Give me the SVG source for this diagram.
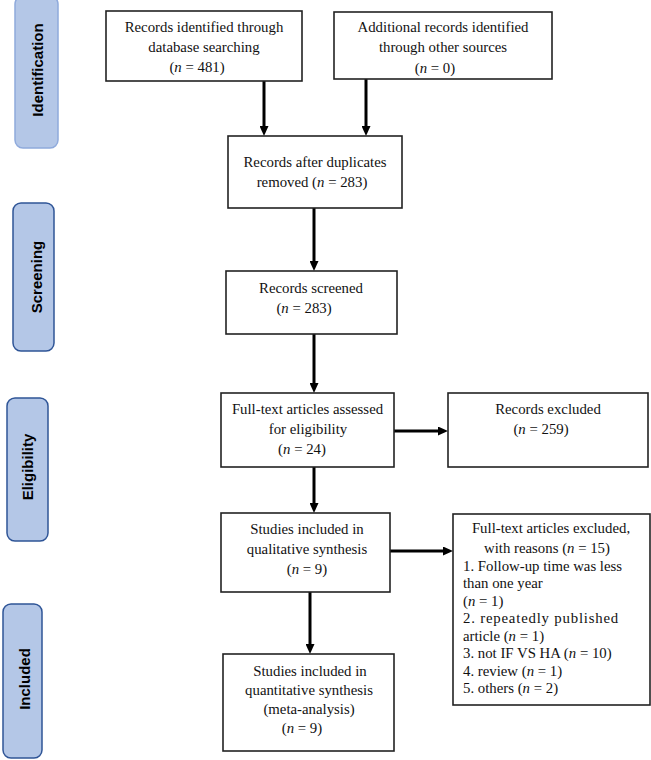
<svg xmlns="http://www.w3.org/2000/svg" width="651" height="760" viewBox="0 0 651 760">
<style>
.box{fill:#fff;stroke:#222;stroke-width:1.6}
.t{font-family:"Liberation Serif","Times New Roman",serif;font-size:14.8px;fill:#111}
.c{text-anchor:middle}
.pill{fill:#b4c7e7;stroke:#2f5597;stroke-width:1.5}
.pl{font-family:"Liberation Sans",Arial,sans-serif;font-size:15px;font-weight:bold;fill:#000;text-anchor:middle}
.arr{stroke:#000;stroke-width:3;fill:none;marker-end:url(#ah)}
</style>
<defs>
<marker id="ah" markerUnits="userSpaceOnUse" markerWidth="10" markerHeight="9" refX="3" refY="4.5" orient="auto">
<path d="M0,0 L10,4.5 L0,9 z" fill="#000"/>
</marker>
</defs>
<g id="phase-identification">
<rect class="pill" style="stroke:#8faadc" x="15" y="-4" width="43" height="152" rx="8"/>
<text class="pl" transform="translate(43,70) rotate(-90)">Identification</text>
</g>
<g id="phase-screening">
<rect class="pill" x="13" y="203" width="41" height="148" rx="8"/>
<text class="pl" transform="translate(42,277) rotate(-90)">Screening</text>
</g>
<g id="phase-eligibility">
<rect class="pill" x="7" y="398" width="41" height="143" rx="8"/>
<text class="pl" transform="translate(33,467) rotate(-90)">Eligibility</text>
</g>
<g id="phase-included">
<rect class="pill" x="3" y="604" width="39" height="154" rx="8"/>
<text class="pl" transform="translate(30,679) rotate(-90)">Included</text>
</g>
<g id="connectors">
<line class="arr" x1="264" y1="81" x2="264" y2="129"/>
<line class="arr" x1="366" y1="79" x2="366" y2="129"/>
<line class="arr" x1="314" y1="208" x2="314" y2="264"/>
<line class="arr" x1="314" y1="334" x2="314" y2="386"/>
<line class="arr" x1="394" y1="431" x2="441" y2="431"/>
<line class="arr" x1="314" y1="467" x2="314" y2="506"/>
<line class="arr" x1="390" y1="551" x2="446" y2="551"/>
<line class="arr" x1="310" y1="592" x2="310" y2="647"/>
</g>
<g id="records-identified">
<rect class="box" x="106" y="11" width="196" height="70"/>
<text class="t c" x="204" y="32">Records identified through</text>
<text class="t c" x="204" y="52">database searching</text>
<text class="t c" x="197" y="72">(<tspan font-style="italic">n</tspan> = 481)</text>
</g>
<g id="additional-records">
<rect class="box" x="334" y="12" width="218" height="67"/>
<text class="t c" x="443" y="32">Additional records identified</text>
<text class="t c" x="443" y="52">through other sources</text>
<text class="t c" x="435" y="73">(<tspan font-style="italic">n</tspan> = 0)</text>
</g>
<g id="after-duplicates">
<rect class="box" x="228" y="136" width="174" height="72"/>
<text class="t c" x="315" y="167">Records after duplicates</text>
<text class="t c" x="312" y="187">removed (<tspan font-style="italic">n</tspan> = 283)</text>
</g>
<g id="records-screened">
<rect class="box" x="226" y="271" width="171" height="63"/>
<text class="t c" x="311" y="293">Records screened</text>
<text class="t c" x="304" y="313">(<tspan font-style="italic">n</tspan> = 283)</text>
</g>
<g id="full-text-assessed">
<rect class="box" x="221" y="393" width="173" height="74"/>
<text class="t c" x="307.5" y="414">Full-text articles assessed</text>
<text class="t c" x="308" y="434">for eligibility</text>
<text class="t c" x="302" y="454">(<tspan font-style="italic">n</tspan> = 24)</text>
</g>
<g id="records-excluded">
<rect class="box" x="448" y="393" width="200" height="74"/>
<text class="t c" x="548" y="414">Records excluded</text>
<text class="t c" x="541" y="434">(<tspan font-style="italic">n</tspan> = 259)</text>
</g>
<g id="qualitative">
<rect class="box" x="221" y="513" width="169" height="79"/>
<text class="t c" x="307" y="534">Studies included in</text>
<text class="t c" x="307" y="554">qualitative synthesis</text>
<text class="t c" x="307" y="574">(<tspan font-style="italic">n</tspan> = 9)</text>
</g>
<g id="full-text-excluded">
<rect class="box" x="453" y="514" width="197" height="191"/>
<text class="t c" x="551" y="533">Full-text articles excluded,</text>
<text class="t c" x="547" y="553">with reasons (<tspan font-style="italic">n</tspan> = 15)</text>
<text class="t" x="463" y="571">1. Follow-up time was less</text>
<text class="t" x="463" y="588">than one year</text>
<text class="t" x="463" y="606">(<tspan font-style="italic">n</tspan> = 1)</text>
<text class="t" x="463" y="623" letter-spacing="0.8">2. repeatedly published</text>
<text class="t" x="463" y="641">article (<tspan font-style="italic">n</tspan> = 1)</text>
<text class="t" x="463" y="658">3. not IF VS HA (<tspan font-style="italic">n</tspan> = 10)</text>
<text class="t" x="463" y="676">4. review (<tspan font-style="italic">n</tspan> = 1)</text>
<text class="t" x="463" y="693">5. others (<tspan font-style="italic">n</tspan> = 2)</text>
</g>
<g id="quantitative">
<rect class="box" x="223" y="654" width="171" height="97"/>
<text class="t c" x="310" y="676">Studies included in</text>
<text class="t c" x="309" y="695">quantitative synthesis</text>
<text class="t c" x="309" y="714">(meta-analysis)</text>
<text class="t c" x="302" y="733">(<tspan font-style="italic">n</tspan> = 9)</text>
</g>
</svg>
